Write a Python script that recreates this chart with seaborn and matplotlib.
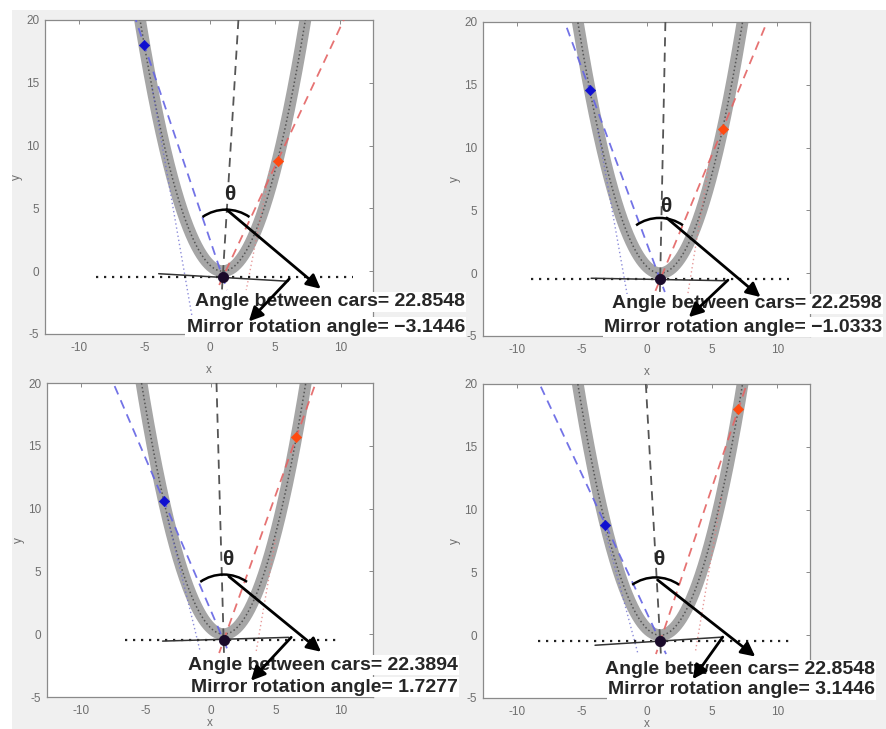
import numpy as np
import pandas as pd
import matplotlib
matplotlib.use("Agg")
import matplotlib.pyplot as plt
from matplotlib.patches import Arc, Rectangle
import seaborn as sns

# ---------------- data ----------------
parabola_a = 0.5          # y = a (x - vertex_x)^2 + vertex_y
vertex_x, vertex_y = 1.0, 0.0
focus_x, focus_y = 1.0, -0.5

blue_car_x = [-5.0, -4.4, -3.6, -3.2]
blue_car_y = [18.0, 14.6, 10.6, 8.8]
red_car_x = [5.2, 5.8, 6.6, 7.0]
red_car_y = [8.8, 11.5, 15.7, 18.0]

angle_between = ["22.8548", "22.2598", "22.3894", "22.8548"]
mirror_rotation = ["\u22123.1446", "\u22121.0333", "1.7277", "3.1446"]

normal_top_x = [2.2, 1.4, 0.45, -0.1]          # x of the bisector at y = 20
hline_x0 = [-8.7, -8.9, -6.6, -8.4]
hline_x1 = [11.0, 10.9, 9.8, 10.9]
mirror_x0 = [-3.9, -4.3, -3.7, -4.0]
mirror_y0 = [-0.2, -0.4, -0.55, -0.8]
mirror_x1 = [6.0, 6.1, 6.0, 5.8]
mirror_y1 = [-0.8, -0.6, -0.25, -0.15]

blue_ray_x = [(-4.4, -1.2), (-3.8, -1.5), (-3.3, -0.8), (-3.4, -0.7)]
blue_ray_y = [(14.6, -4.5), (11.5, -1.9), (9.2, -1.4), (9.0, -1.5)]
red_ray_x = [(4.6, 2.8), (4.8, 3.1), (5.0, 3.5), (5.7, 3.7)]
red_ray_y = [(8.0, -1.5), (9.0, -1.8), (7.6, -1.4), (11.0, -1.35)]

arc_cx = [1.25, 0.95, 1.0, 0.65]
arc_top = [4.9, 4.4, 4.75, 4.6]
theta_x = [1.5, 1.4, 1.3, 0.9]
theta_y = [6.1, 5.3, 5.95, 6.0]

arrow1_x0 = [1.3, 1.5, 1.4, 0.8]
arrow1_y0 = [4.9, 4.4, 4.6, 4.4]
arrow1_x1 = [8.5, 8.7, 8.5, 8.3]
arrow1_y1 = [-1.4, -1.9, -1.4, -1.7]
arrow2_x0 = [6.1, 6.2, 6.2, 5.8]
arrow2_y0 = [-0.6, -0.55, -0.25, -0.15]
arrow2_x1 = [3.0, 3.2, 3.1, 3.5]
arrow2_y1 = [-4.0, -3.5, -3.7, -3.5]

x_ticks = [-10, -5, 0, 5, 10]
y_ticks = [-5, 0, 5, 10, 15, 20]

# ---------------- layout (pixels) ----------------
W, H = 887, 729
axes_px = [(45, 20, 373, 334), (483, 22, 810, 336),
           (47, 383, 373, 697), (483, 384, 810, 698)]
xlabel_pad = [7, 7, 0, 0]
text_right = [465, 882, 458, 875]
text_y1 = [302, 304, 665, 670]
text_y2 = [327, 327, 687, 690]

sns.set_style("white")
plt.rcParams["font.family"] = ["Liberation Sans", "DejaVu Sans"]
plt.rcParams["axes.unicode_minus"] = False

fig = plt.figure(figsize=(W / 100, H / 100), dpi=100)
fig.patch.set_facecolor("white")
fig.add_artist(Rectangle((12 / W, 0), 1 - 12 / W, (H - 10) / H,
                         transform=fig.transFigure, facecolor="#f0f0f0",
                         edgecolor="none", zorder=-10))

px_per_x = 13.05
px_per_y = 12.6
R_px = 41.0

for i, (l, t, r, b) in enumerate(axes_px):
    ax = fig.add_axes([l / W, 1 - b / H, (r - l) / W, (b - t) / H])
    ax.set_facecolor("white")

    # parabola (thick gray with dotted overlay)
    xs = np.linspace(-6.5, 8.5, 500)
    ys = parabola_a * (xs - vertex_x) ** 2 + vertex_y
    df = pd.DataFrame({"x": xs, "y": ys})
    sns.lineplot(data=df, x="x", y="y", ax=ax, color="#a6a6a6", lw=8.5,
                 estimator=None, sort=False, zorder=2)
    sns.lineplot(data=df, x="x", y="y", ax=ax, color="#3a3a3a", lw=1.1,
                 linestyle=(0, (1, 1.6)), estimator=None, sort=False,
                 alpha=0.75, zorder=3)

    # faint dotted rays
    sns.lineplot(x=list(blue_ray_x[i]), y=list(blue_ray_y[i]), ax=ax,
                 color="#7070d0", lw=1.0, linestyle=(0, (1, 2)),
                 estimator=None, sort=False, alpha=0.8, zorder=3)
    sns.lineplot(x=list(red_ray_x[i]), y=list(red_ray_y[i]), ax=ax,
                 color="#e08080", lw=1.0, linestyle=(0, (1, 2)),
                 estimator=None, sort=False, alpha=0.8, zorder=3)

    # dashed lines from cars through focus point
    for cx, cy, col in [(blue_car_x[i], blue_car_y[i], "#6464e4"),
                        (red_car_x[i], red_car_y[i], "#e46464")]:
        slope = (cy - focus_y) / (cx - focus_x)
        yl = np.array([22.0, -1.5])
        xl = focus_x + (yl - focus_y) / slope
        sns.lineplot(x=xl, y=yl, ax=ax, color=col, lw=1.3,
                     linestyle=(0, (5, 3.5)), estimator=None, sort=False,
                     alpha=0.9, zorder=4)

    # bisector dashed line
    yl = np.array([20.0, -1.5])
    xl = focus_x + (normal_top_x[i] - focus_x) * (yl - focus_y) / (20.0 - focus_y)
    sns.lineplot(x=xl, y=yl, ax=ax, color="#555555", lw=1.3,
                 linestyle=(0, (5, 3.5)), estimator=None, sort=False, zorder=4)

    # horizontal dotted line
    sns.lineplot(x=[hline_x0[i], hline_x1[i]], y=[focus_y, focus_y], ax=ax,
                 color="#222222", lw=1.6, linestyle=(0, (1, 2.6)),
                 estimator=None, sort=False, zorder=4)
    # mirror line
    sns.lineplot(x=[mirror_x0[i], mirror_x1[i]], y=[mirror_y0[i], mirror_y1[i]],
                 ax=ax, color="#333333", lw=1.1, estimator=None, sort=False,
                 zorder=4)

    # markers
    sns.scatterplot(x=[blue_car_x[i]], y=[blue_car_y[i]], ax=ax, marker="D",
                    color="#1010d0", s=28, edgecolor="#1010d0", zorder=6)
    sns.scatterplot(x=[red_car_x[i]], y=[red_car_y[i]], ax=ax, marker="D",
                    color="#ff4a10", s=28, edgecolor="#ff4a10", zorder=6)
    sns.scatterplot(x=[focus_x], y=[focus_y], ax=ax, marker="o",
                    color="#1a0a2a", s=55, edgecolor="#1a0a2a", zorder=6)

    # theta arc
    rx, ry = R_px / px_per_x, R_px / px_per_y
    ax.add_patch(Arc((arc_cx[i], arc_top[i] - ry), 2 * rx, 2 * ry,
                     theta1=56, theta2=124, color="black", lw=1.8, zorder=7))
    ax.text(theta_x[i], theta_y[i], "\u03b8", fontsize=15, fontweight="bold",
            ha="center", va="center", zorder=7)

    # labels with white boxes
    ax.text(text_right[i] / W, 1 - text_y1[i] / H,
            "Angle between cars= " + angle_between[i],
            transform=fig.transFigure, ha="right", va="center", fontsize=14,
            fontweight="bold", bbox=dict(facecolor="white", edgecolor="none", pad=0.8),
            zorder=8)
    ax.text(text_right[i] / W, 1 - text_y2[i] / H,
            "Mirror rotation angle= " + mirror_rotation[i],
            transform=fig.transFigure, ha="right", va="center", fontsize=14,
            fontweight="bold", bbox=dict(facecolor="white", edgecolor="none", pad=0.8),
            zorder=8)

    # arrows
    ap = dict(arrowstyle="-|>", color="black", lw=2.0, mutation_scale=21,
              shrinkA=0, shrinkB=0)
    ax.annotate("", xy=(arrow1_x1[i], arrow1_y1[i]),
                xytext=(arrow1_x0[i], arrow1_y0[i]), arrowprops=ap, zorder=9)
    ax.annotate("", xy=(arrow2_x1[i], arrow2_y1[i]),
                xytext=(arrow2_x0[i], arrow2_y0[i]), arrowprops=ap, zorder=9)

    # axes styling (MATLAB look)
    ax.set_xlim(-12.6, 12.5)
    ax.set_ylim(-5, 20)
    ax.set_xticks(x_ticks)
    ax.set_yticks(y_ticks)
    ax.tick_params(direction="in", length=3, width=0.7, color="#8a8a8a",
                   top=True, right=True, labelsize=8.5, labelcolor="#6e6e6e")
    ax.tick_params(axis="x", pad=6)
    ax.tick_params(axis="y", pad=4)
    for sp in ax.spines.values():
        sp.set_color("#8a8a8a")
        sp.set_linewidth(0.9)
    ax.set_xlabel("x", fontsize=8.5, color="#6e6e6e", labelpad=xlabel_pad[i])
    ax.set_ylabel("y", fontsize=8.5, color="#6e6e6e", labelpad=2)

fig.savefig("out.png", dpi=100)
